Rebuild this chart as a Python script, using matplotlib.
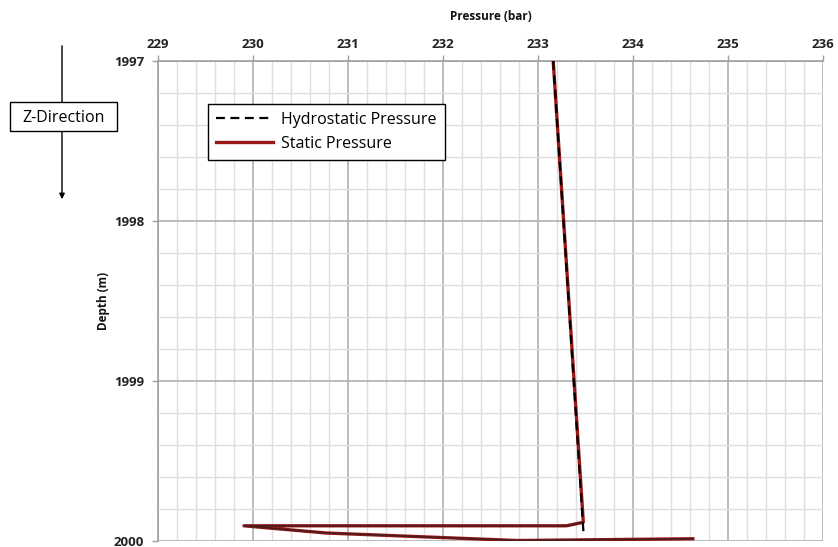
import matplotlib
matplotlib.use("Agg")
import matplotlib.pyplot as plt
from matplotlib.patches import FancyArrowPatch, Rectangle
from matplotlib.ticker import MultipleLocator

plt.rcParams['font.family'] = ['Open Sans', 'DejaVu Sans']

# Hydrostatic gradient (pressure in bar, depth in m)
hydro_pressure = [233.16, 233.48]
hydro_depth = [1997.0, 1999.96]

# Static pressure profile
static_pressure = [233.16, 233.477, 233.30, 229.905, 230.77, 232.78, 234.63]
static_depth = [1997.0, 1999.883, 1999.905, 1999.905, 1999.95, 1999.997, 1999.986]

x_ticks = [229, 230, 231, 232, 233, 234, 235, 236]
y_ticks = [1997, 1998, 1999, 2000]

W, H = 838, 547
fig = plt.figure(figsize=(W / 100, H / 100), dpi=100)
ax = fig.add_axes([158 / W, 1 - 541 / H, (823 - 158) / W, (541 - 61) / H])

ax.plot(static_pressure, static_depth, color='#9a1818', lw=2.4, label='Static Pressure', zorder=3)
ax.plot(static_pressure[1:], static_depth[1:], color='#4a1c1c', lw=1.2, zorder=3.5)
ax.plot(hydro_pressure, hydro_depth, color='black', lw=1.6, ls=(0, (4, 2.5)),
        label='Hydrostatic Pressure', zorder=4)

ax.set_xlim(229, 236)
ax.set_ylim(2000, 1997)
ax.xaxis.tick_top()
ax.xaxis.set_label_position('top')
ax.set_xticks(x_ticks)
ax.set_yticks(y_ticks)
ax.xaxis.set_minor_locator(MultipleLocator(0.2))
ax.yaxis.set_minor_locator(MultipleLocator(0.2))

ax.grid(which='major', color='#b0b0b0', lw=1.2)
ax.grid(which='minor', color='#dedede', lw=1.0)
ax.set_axisbelow(True)

for side in ('right', 'bottom'):
    ax.spines[side].set_visible(False)
for side in ('left', 'top'):
    ax.spines[side].set_color('#a0a0a0')
    ax.spines[side].set_linewidth(1.2)

ax.tick_params(which='major', length=4, color='#a0a0a0', width=1.0, pad=3,
               labelsize=9.5, labelcolor='#222222')
ax.tick_params(axis='y', which='major', pad=6)
ax.tick_params(which='minor', length=0)
for lbl in ax.get_xticklabels() + ax.get_yticklabels():
    lbl.set_fontweight('bold')

ax.set_xlabel('Pressure (bar)', fontsize=8.5, fontweight='bold', labelpad=13, color='#111111')
ax.set_ylabel('Depth (m)', fontsize=8.5, fontweight='bold', labelpad=3, color='#111111')

h_static, h_hydro = ax.get_legend_handles_labels()[0]
leg = ax.legend([h_hydro, h_static], ['Hydrostatic Pressure', 'Static Pressure'],
                loc='upper left',
                bbox_to_anchor=((208 - 158) / 665, 1 - (104 - 61) / 480),
                fontsize=11.5, frameon=True, fancybox=False, framealpha=1,
                edgecolor='black', handlelength=3.6, borderpad=0.5,
                labelspacing=0.5, handletextpad=0.5, borderaxespad=0)
leg.get_frame().set_linewidth(1.0)

# Z-direction indicator
fig.add_artist(FancyArrowPatch(
    (62 / W, 1 - 43 / H), (62 / W, 1 - 202 / H),
    transform=fig.transFigure, arrowstyle='-|>', mutation_scale=8,
    color='black', lw=1.0, zorder=1))
fig.add_artist(Rectangle((10 / W, 1 - 131 / H), 107 / W, 29 / H,
                         transform=fig.transFigure, facecolor='white',
                         edgecolor='black', lw=1.0, zorder=2))
fig.text(63.5 / W, 1 - 118 / H, 'Z-Direction', ha='center', va='center',
         fontsize=11.5, zorder=3)

fig.savefig('out.png', dpi=100)
